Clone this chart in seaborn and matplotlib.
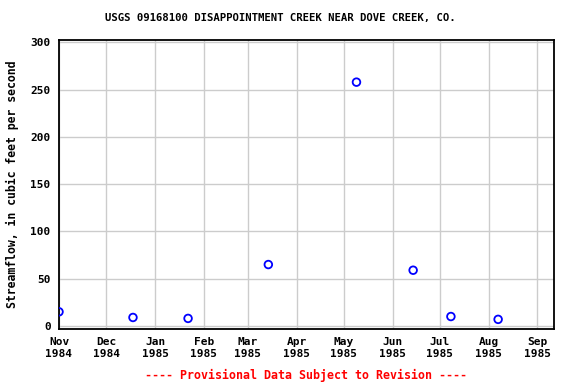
import pandas as pd
import numpy as np
import matplotlib
matplotlib.use('Agg')
from matplotlib import pyplot as plt
import matplotlib.dates as mdates
import seaborn as sns

dates = ['1984-11-01', '1984-12-18', '1985-01-22', '1985-03-14',
         '1985-05-09', '1985-06-14', '1985-07-08', '1985-08-07']
flow = [15, 9, 8, 65, 258, 59, 10, 7]
tick_dates = pd.date_range('1984-11-01', '1985-09-01', freq='MS')
y_ticks = [0, 50, 100, 150, 200, 250, 300]

title = 'USGS 09168100 DISAPPOINTMENT CREEK NEAR DOVE CREEK, CO.'
ylabel = 'Streamflow, in cubic feet per second'
footer = '---- Provisional Data Subject to Revision ----'

df = pd.DataFrame({'date': pd.to_datetime(dates), 'flow': flow})

sns.set_style('white')
plt.rcParams['font.family'] = ['DejaVu Sans Mono']
plt.rcParams['font.weight'] = 'bold'
plt.rcParams['text.color'] = 'black'
plt.rcParams['xtick.color'] = 'black'
plt.rcParams['ytick.color'] = 'black'
plt.rcParams['axes.labelcolor'] = 'black'

fig = plt.figure(figsize=(5.76, 3.84), dpi=100)
ax = fig.add_axes([59/576, 1-329/384, 495/576, 289/384])

sns.scatterplot(data=df, x='date', y='flow', ax=ax, marker='o', s=30,
                facecolor='none', edgecolor='#0000ff', linewidth=1.3, zorder=3)

ax.set_xlim(pd.Timestamp('1984-11-01'), pd.Timestamp('1985-09-11 12:00'))
ax.set_ylim(-3.2, 302.6)
ax.set_yticks(y_ticks)
ax.set_xticks(tick_dates)
ax.set_xticklabels([d.strftime('%b\n%Y') for d in tick_dates])
ax.grid(True, color='#cccccc', linewidth=1)
ax.set_axisbelow(True)
for s in ax.spines.values():
    s.set_color('black')
    s.set_linewidth(1.3)
ax.tick_params(length=0, labelsize=8, pad=6, colors='black')
for lab in ax.get_xticklabels() + ax.get_yticklabels():
    lab.set_fontweight('bold')
ax.set_xlabel('')
ax.set_ylabel(ylabel, fontsize=8.3, fontweight='bold', labelpad=8, color='black')

fig.text(280/576, 1-18/384, title, ha='center', va='center', fontsize=7.7,
         fontweight='bold', color='black')
fig.text(306/576, 1-375/384, footer, ha='center', va='center', fontsize=8.4,
         fontweight='bold', color='red')

fig.savefig('out.png', dpi=100)
